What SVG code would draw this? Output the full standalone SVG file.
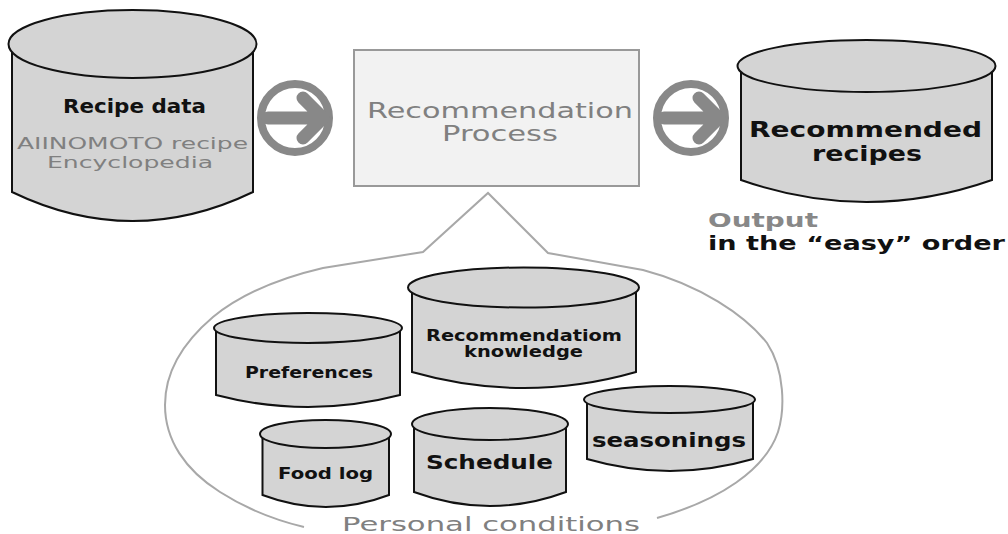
<svg xmlns="http://www.w3.org/2000/svg" width="1008" height="534" viewBox="0 0 1008 534">
  <style>
    .cyl { fill: #d4d4d4; stroke: #111; stroke-width: 2; }
    .lbl { font-family: "DejaVu Sans", "Liberation Sans", sans-serif; font-weight: bold; fill: #111; text-anchor: middle; }
    .sub { font-family: "DejaVu Sans", "Liberation Sans", sans-serif; fill: #808080; text-anchor: middle; }
    .ring { fill: none; stroke: #888; stroke-width: 8; }
    .arr { fill: none; stroke: #888; stroke-width: 13; stroke-linecap: round; stroke-linejoin: round; }
    .callout { fill: none; stroke: #a8a8a8; stroke-width: 2; }
  </style>

  <!-- Source database -->
  <g id="recipe-data">
    <path class="cyl" d="M 12 44 L 12 192 Q 132.5 250 253 192 L 253 44 Z"/>
    <ellipse class="cyl" cx="132.5" cy="44" rx="124" ry="34"/>
    <text class="lbl" x="134.5" y="113" font-size="19" textLength="143" lengthAdjust="spacingAndGlyphs">Recipe data</text>
    <text class="sub" x="132.5" y="149" font-size="16" textLength="231" lengthAdjust="spacingAndGlyphs">AIINOMOTO recipe</text>
    <text class="sub" x="130" y="168" font-size="16" textLength="166" lengthAdjust="spacingAndGlyphs">Encyclopedia</text>
  </g>

  <!-- Flow arrows -->
  <g id="connectors">
    <g id="arrow-in">
      <circle class="ring" cx="295" cy="118" r="34"/>
      <path class="arr" d="M 268 118 H 318 M 303 98 L 323 118 L 303 138"/>
    </g>
    <g id="arrow-out">
      <circle class="ring" cx="691" cy="118" r="34"/>
      <path class="arr" d="M 664 118 H 714 M 699 98 L 719 118 L 699 138"/>
    </g>
    <path id="callout" class="callout" d="M 304 527 C 275 520 245 508 220 492 C 185 470 165 440 165 405 C 165 375 180 345 213 317 C 240 295 280 278 323 268 L 423 252 L 488 193 L 548 253 L 643 270 C 700 285 745 315 767 343 C 785 370 785 410 778 432 C 765 470 720 500 657 518"/>
  </g>

  <!-- Processing step -->
  <g id="recommendation-process">
    <rect x="354" y="50" width="285" height="136" fill="#f2f2f2" stroke="#999" stroke-width="2"/>
    <text class="sub" x="500" y="118" font-size="22" textLength="266" lengthAdjust="spacingAndGlyphs">Recommendation</text>
    <text class="sub" x="500" y="141" font-size="22" textLength="116" lengthAdjust="spacingAndGlyphs">Process</text>
  </g>

  <!-- Result database -->
  <g id="recommended-recipes">
    <path class="cyl" d="M 741 66 L 741 180 Q 866.5 224 992 180 L 992 66 Z"/>
    <ellipse class="cyl" cx="866.5" cy="66" rx="129" ry="26"/>
    <text class="lbl" x="865.5" y="137" font-size="21" textLength="233" lengthAdjust="spacingAndGlyphs">Recommended</text>
    <text class="lbl" x="867" y="161" font-size="21" textLength="110" lengthAdjust="spacingAndGlyphs">recipes</text>
  </g>

  <g id="output-note">
    <text x="708" y="227" font-family="DejaVu Sans, Liberation Sans, sans-serif" font-weight="bold" font-size="20" fill="#888" textLength="110" lengthAdjust="spacingAndGlyphs">Output</text>
    <text x="708" y="250" font-family="DejaVu Sans, Liberation Sans, sans-serif" font-weight="bold" font-size="20" fill="#111" textLength="297" lengthAdjust="spacingAndGlyphs">in the “easy” order</text>
  </g>

  <!-- Personal condition stores -->
  <g id="recommendation-knowledge">
    <path class="cyl" d="M 412 287.5 L 412 372 Q 524 404 636 372 L 636 287.5 Z"/>
    <ellipse class="cyl" cx="523.5" cy="287.5" rx="115.5" ry="20"/>
    <text class="lbl" x="524" y="341" font-size="15.5" textLength="196" lengthAdjust="spacingAndGlyphs">Recommendatiom</text>
    <text class="lbl" x="523.5" y="357" font-size="15.5" textLength="119" lengthAdjust="spacingAndGlyphs">knowledge</text>
  </g>

  <g id="preferences">
    <path class="cyl" d="M 216 328 L 216 395 Q 308 419 400 395 L 400 328 Z"/>
    <ellipse class="cyl" cx="308" cy="328" rx="94" ry="15"/>
    <text class="lbl" x="309" y="378" font-size="15.5" textLength="128" lengthAdjust="spacingAndGlyphs">Preferences</text>
  </g>

  <g id="seasonings">
    <path class="cyl" d="M 587 399.5 L 587 459 Q 670 483 753 459 L 753 399.5 Z"/>
    <ellipse class="cyl" cx="669.5" cy="399.5" rx="85.5" ry="13.5"/>
    <text class="lbl" x="669" y="447" font-size="19" textLength="154" lengthAdjust="spacingAndGlyphs">seasonings</text>
  </g>

  <g id="food-log">
    <path class="cyl" d="M 262.5 434 L 262.5 495 Q 326 519 389 495 L 389 434 Z"/>
    <ellipse class="cyl" cx="325.5" cy="434" rx="65.5" ry="14"/>
    <text class="lbl" x="325.5" y="479" font-size="15.5" textLength="95" lengthAdjust="spacingAndGlyphs">Food log</text>
  </g>

  <g id="schedule">
    <path class="cyl" d="M 414 424 L 414 492 Q 490 520 566 492 L 566 424 Z"/>
    <ellipse class="cyl" cx="490" cy="424" rx="78" ry="16"/>
    <text class="lbl" x="489.5" y="469" font-size="20" textLength="127" lengthAdjust="spacingAndGlyphs">Schedule</text>
  </g>

  <text id="personal-conditions" class="sub" x="491" y="531" font-size="20" textLength="298" lengthAdjust="spacingAndGlyphs">Personal conditions</text>
</svg>
